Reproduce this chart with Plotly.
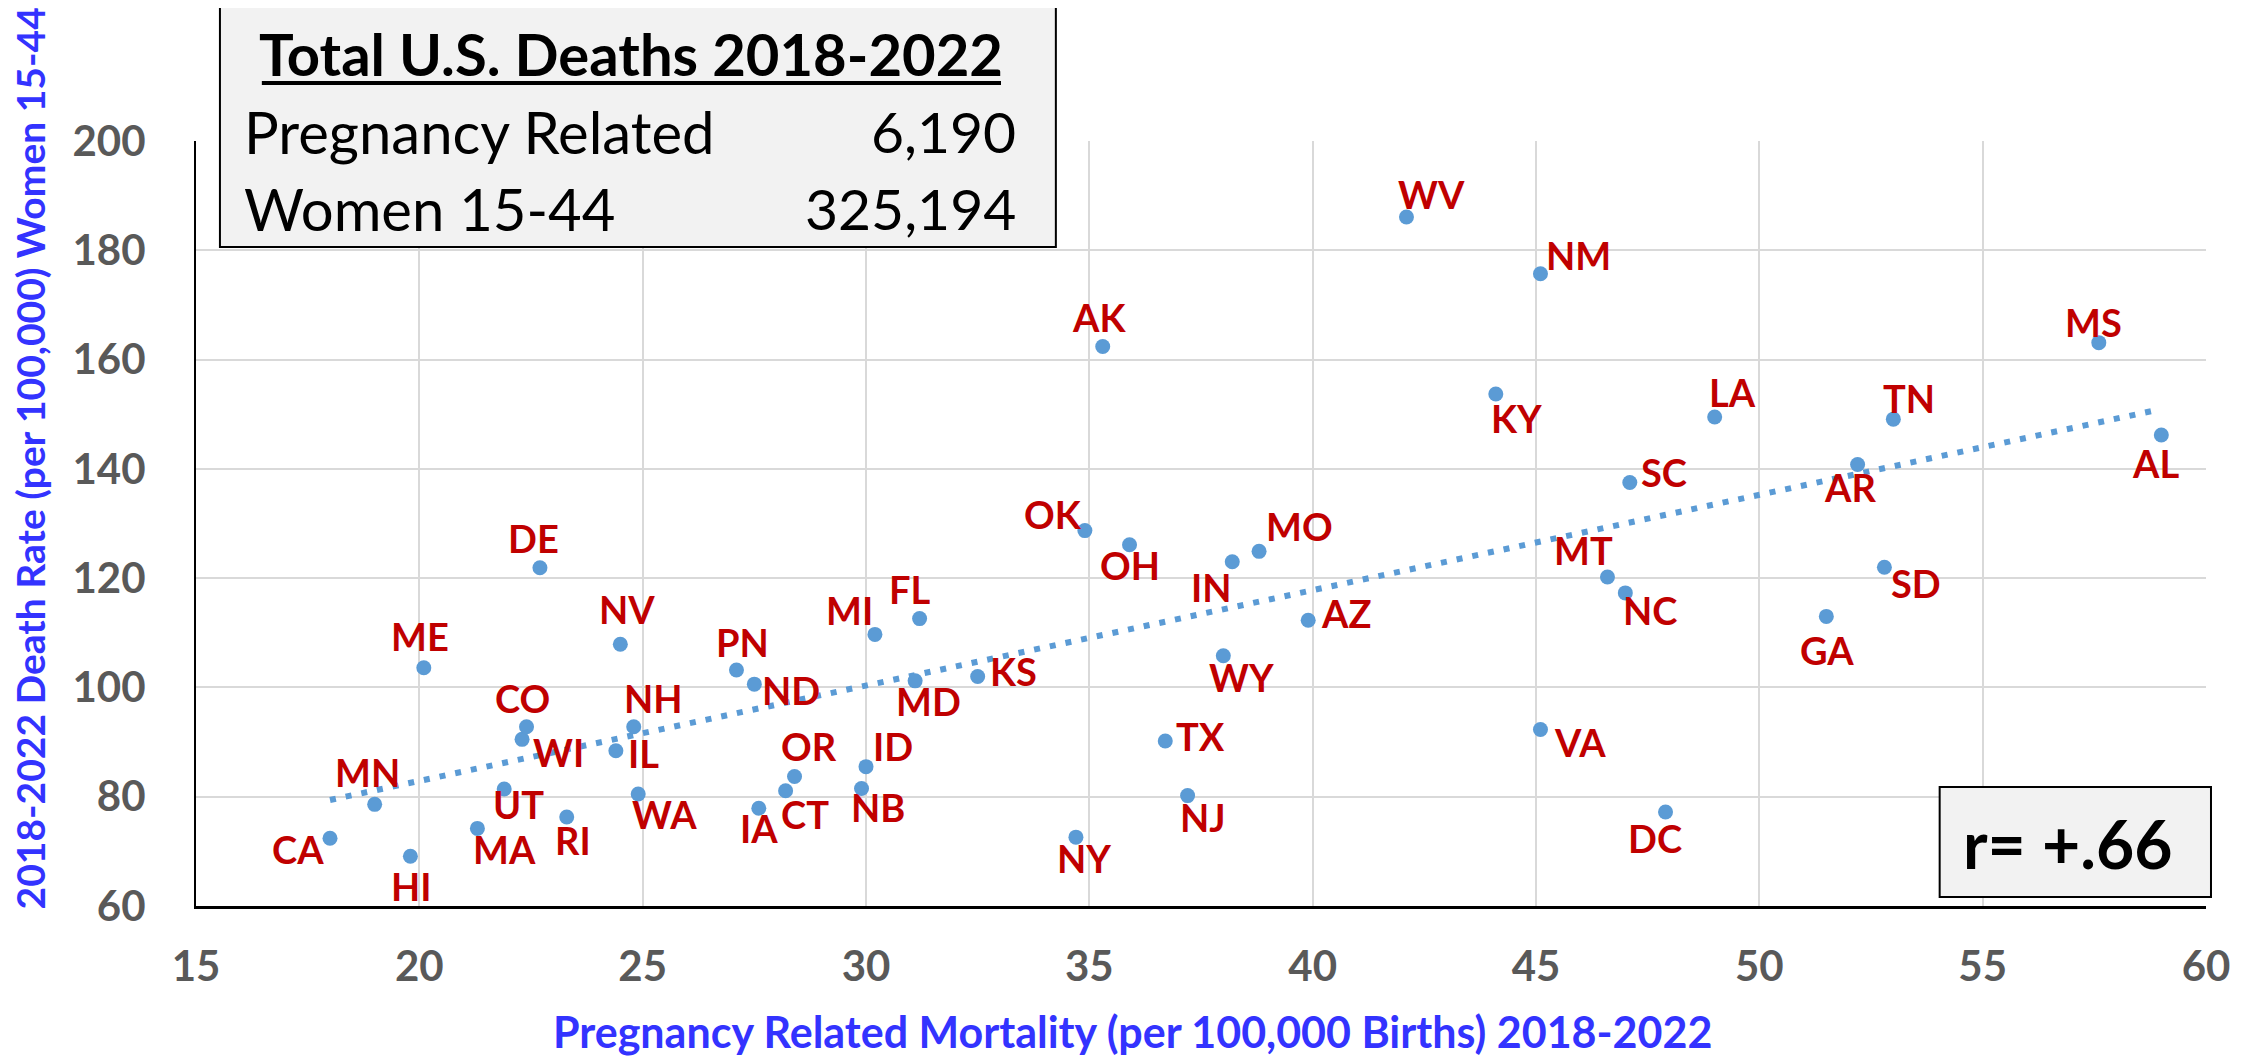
import plotly.graph_objects as go

# state-level values
states = ['CA', 'HI', 'MN', 'ME', 'MA', 'UT', 'WI', 'CO', 'DE', 'RI',
          'NV', 'IL', 'NH', 'WA', 'PN', 'ND', 'IA', 'CT', 'OR', 'NB',
          'ID', 'MI', 'FL', 'MD', 'KS', 'NY', 'OK', 'AK', 'OH', 'TX',
          'NJ', 'WY', 'IN', 'MO', 'AZ', 'WV', 'KY', 'NM', 'VA', 'MT',
          'NC', 'SC', 'DC', 'LA', 'GA', 'AR', 'SD', 'TN', 'MS', 'AL']
preg_mortality = [18.0, 19.8, 19.0, 20.1, 21.3, 21.9, 22.3, 22.4, 22.7, 23.3,
                  24.5, 24.4, 24.8, 24.9, 27.1, 27.5, 27.6, 28.2, 28.4, 29.9,
                  30.0, 30.2, 31.2, 31.1, 32.5, 34.7, 34.9, 35.3, 35.9, 36.7,
                  37.2, 38.0, 38.2, 38.8, 39.9, 42.1, 44.1, 45.1, 45.1, 46.6,
                  47.0, 47.1, 47.9, 49.0, 51.5, 52.2, 52.8, 53.0, 57.6, 59.0]
death_rate = [72.4, 69.1, 78.6, 103.6, 74.2, 81.4, 90.5, 92.8, 121.9, 76.3,
              107.9, 88.4, 92.8, 80.5, 103.2, 100.6, 77.9, 81.1, 83.7, 81.5,
              85.5, 109.7, 112.6, 101.2, 102.0, 72.6, 128.7, 162.4, 126.1, 90.2,
              80.2, 105.8, 123.0, 124.9, 112.3, 186.1, 153.7, 175.7, 92.3, 120.2,
              117.3, 137.5, 77.2, 149.5, 113.0, 140.8, 122.0, 149.1, 163.1, 146.2]

# linear trendline end points as drawn
trend_x = [18.0, 58.8]
trend_y = [79.4, 150.6]

total_rows = ['Pregnancy Related', 'Women 15-44']
total_vals = ['6,190', '325,194']

# label offsets from the dot, screen px (right, down)
label_off = {
    'CA': (-32, 11), 'HI': (1, 30), 'MN': (-7, -32), 'ME': (-4, -32), 'MA': (27, 21),
    'UT': (14, 15), 'WI': (36, 13), 'CO': (-4, -29), 'DE': (-6, -30), 'RI': (6, 23),
    'NV': (7, -35), 'IL': (28, 2), 'NH': (20, -29), 'WA': (26, 20), 'PN': (6, -28),
    'ND': (37, 6), 'IA': (0, 20), 'CT': (19, 23), 'OR': (14, -31), 'NB': (16, 18),
    'ID': (27, -21), 'MI': (-25, -24), 'FL': (-10, -30), 'MD': (13, 20), 'KS': (36, -6),
    'NY': (8, 21), 'OK': (-32, -17), 'AK': (-4, -29), 'OH': (0, 20), 'TX': (35, -5),
    'NJ': (15, 21), 'WY': (18, 21), 'IN': (-21, 25), 'MO': (40, -25), 'AZ': (38, -7),
    'WV': (25, -23), 'KY': (21, 24), 'NM': (38, -19), 'VA': (40, 12), 'MT': (-24, -27),
    'NC': (25, 17), 'SC': (34, -11), 'DC': (-11, 26), 'LA': (18, -25), 'GA': (1, 34),
    'AR': (-8, 23), 'SD': (32, 16), 'TN': (16, -21), 'MS': (-5, -21), 'AL': (-6, 28),
}

FONT = 'Lato, Carlito, sans-serif'
BLUE_DOT = '#5B9BD5'
RED = '#C00000'
TITLE_BLUE = '#3333FF'

# page has an 8px body margin, so the figure starts 8px in from the corner
PAD = 8
W, H = 2242 - PAD, 1060 - PAD
# plot area in page pixels: x 196..2211, y 141..906
PL, PR, PT, PB = 196, 2211, 141, 906
L, T = PL - PAD, PT - PAD
R, B = W - (PR - PAD), H - (PB - PAD)
PW, PH = PR - PL, PB - PT


def px(X):
    return (X - PL) / PW


def py(Y):
    return (PB - Y) / PH


fig = go.Figure()

fig.add_trace(go.Scatter(
    x=trend_x, y=trend_y, mode='lines',
    line=dict(color=BLUE_DOT, width=6, dash='6px,10px'),
    hoverinfo='skip', showlegend=False
))

fig.add_trace(go.Scatter(
    x=preg_mortality, y=death_rate, mode='markers', text=states,
    marker=dict(color=BLUE_DOT, size=15),
    showlegend=False
))

for s, xv, yv in zip(states, preg_mortality, death_rate):
    dx, dy = label_off[s]
    fig.add_annotation(
        x=xv, y=yv, text='<b>%s</b>' % s, showarrow=False,
        xshift=dx, yshift=-dy,
        font=dict(family=FONT, size=38, color=RED)
    )

# totals box
fig.add_shape(type='rect', xref='paper', yref='paper',
              x0=px(220), x1=px(1058), y0=py(247), y1=py(4),
              fillcolor='#F2F2F2', line=dict(color='black', width=2), layer='above')
fig.add_annotation(xref='paper', yref='paper', x=px(632), y=py(54),
                   text='<b>Total U.S. Deaths 2018-2022</b>', showarrow=False,
                   xanchor='center', yanchor='middle',
                   font=dict(family=FONT, size=58, color='black'))
fig.add_shape(type='line', xref='paper', yref='paper',
              x0=px(262), x1=px(1003), y0=py(83), y1=py(83),
              line=dict(color='black', width=4), layer='above')
for i, (lab, val) in enumerate(zip(total_rows, total_vals)):
    yc = 131 + i * 77
    fig.add_annotation(xref='paper', yref='paper', x=px(242), y=py(yc),
                       text=lab, showarrow=False, xanchor='left', yanchor='middle',
                       font=dict(family=FONT, size=58, color='black'))
    fig.add_annotation(xref='paper', yref='paper', x=px(1020), y=py(yc),
                       text=val, showarrow=False, xanchor='right', yanchor='middle',
                       font=dict(family=FONT, size=57, color='black'))

# correlation box
fig.add_shape(type='rect', xref='paper', yref='paper',
              x0=px(1944), x1=px(2216), y0=py(897), y1=py(787),
              fillcolor='#F2F2F2', line=dict(color='black', width=2), layer='above')
fig.add_annotation(xref='paper', yref='paper', x=px(2072), y=py(843),
                   text='<b>r= +.66</b>', showarrow=False,
                   xanchor='center', yanchor='middle',
                   font=dict(family=FONT, size=66, color='black'))

# axis titles (placed off-centre like the original)
fig.add_annotation(xref='paper', yref='paper', x=px(1135), y=py(1031),
                   text='<b>Pregnancy Related Mortality (per 100,000 Births) 2018-2022</b>',
                   showarrow=False, xanchor='center', yanchor='middle',
                   font=dict(family=FONT, size=43, color=TITLE_BLUE))
fig.add_annotation(xref='paper', yref='paper', x=px(30), y=py(458),
                   text='<b>2018-2022 Death Rate (per 100,000) Women 15-44</b>',
                   showarrow=False, xanchor='center', yanchor='middle', textangle=-90,
                   font=dict(family=FONT, size=39, color=TITLE_BLUE))

fig.update_layout(
    width=W, height=H,
    margin=dict(l=L, r=R, t=T, b=B),
    paper_bgcolor='white', plot_bgcolor='white',
    showlegend=False,
)

fig.update_xaxes(
    range=[15, 60], tick0=15, dtick=5,
    showgrid=True, gridcolor='#D9D9D9', gridwidth=2,
    showline=True, linecolor='black', linewidth=3,
    zeroline=False, ticks='', ticklabelstandoff=22,
    tickfont=dict(family=FONT, size=42, color='#595959', weight='bold')
)
fig.update_yaxes(
    range=[60, 200], tick0=60, dtick=20,
    showgrid=True, gridcolor='#D9D9D9', gridwidth=2,
    showline=True, linecolor='black', linewidth=2,
    zeroline=False, ticks='', ticklabelstandoff=40,
    tickfont=dict(family=FONT, size=42, color='#595959', weight='bold')
)

fig.write_html('out.html')
